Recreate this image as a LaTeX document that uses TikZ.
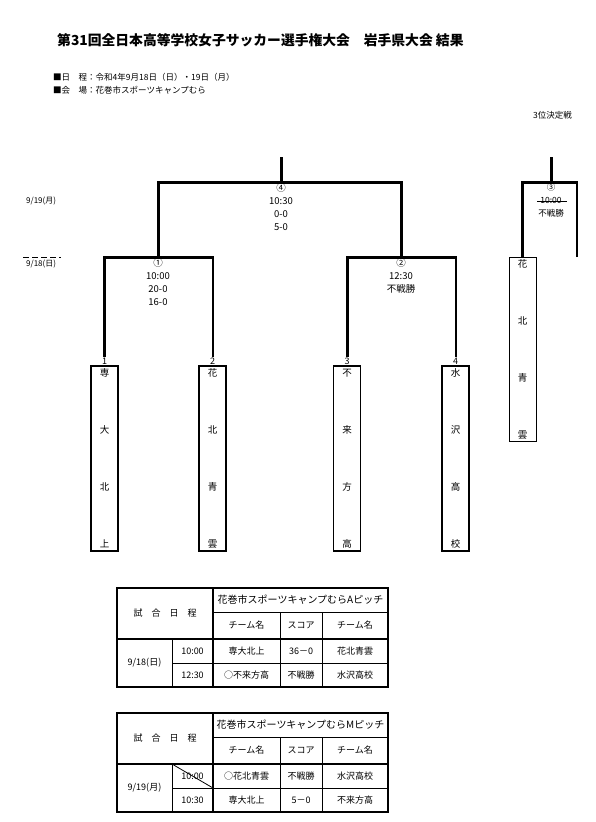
\documentclass[tikz,border=0pt]{standalone}
\usepackage{fontspec}
\setmainfont{Noto Sans CJK JP}
\usetikzlibrary{positioning}

\begin{document}
\begin{tikzpicture}[x=1pt, y=-1pt,
  team/.style={rectangle, draw=black, line width=1.5pt, minimum width=27pt,
               minimum height=185pt, inner sep=0pt, align=center,
               font=\fontsize{9.5}{57}\selectfont},
  seed/.style={inner sep=0.5pt, font=\fontsize{9}{10}\selectfont},
  res/.style={align=center, inner sep=1pt, font=\fontsize{9.5}{13}\selectfont},
  win/.style={draw=black, line width=3pt},
  lose/.style={draw=black, line width=2pt},
  date/.style={anchor=west, inner sep=0pt, font=\fontsize{8}{10}\selectfont},
  info/.style={anchor=west, inner sep=0pt, font=\fontsize{8.5}{10}\selectfont},
  cell/.style={inner sep=0pt, font=\fontsize{9}{11}\selectfont},
  frame/.style={draw=black, line width=1.5pt},
  rule/.style={draw=black, line width=0.8pt}]

  \useasboundingbox (0,0) rectangle (595,822);

  % ---- Heading ----
  \node[anchor=west, inner sep=0pt, font=\fontsize{13.8}{16}\selectfont\bfseries] (title) at (57,40)
    {第31回全日本高等学校女子サッカー選手権大会　岩手県大会 結果};
  \node[info] (sched) at (53,77) {■日　程：令和4年9月18日（日）・19日（月）};
  \node[info] (venue) at (53,90) {■会　場：花巻市スポーツキャンプむら};
  \node[info, anchor=east] (third) at (572,115) {3位決定戦};

  % ---- Days ----
  \node[date] (d19) at (26,201) {9/19(月)};
  \node[date] (d18) at (26,264) {9/18(日)};
  \draw[line width=1.5pt, dash pattern=on 6pt off 3pt] ([xshift=-3pt,yshift=2pt]d18.north west) -- ([xshift=5pt,yshift=2pt]d18.north east);

  % ---- Teams ----
  \node[team] (t1) at (104.5,458.5) {専\\大\\北\\上};
  \node[team] (t2) at (212.5,458.5) {花\\北\\青\\雲};
  \node[team] (t3) at (347,458.5)   {不\\来\\方\\高};
  \node[team] (t4) at (455.5,458.5) {水\\沢\\高\\校};
  \node[team, line width=0.8pt, minimum height=184pt] (t5) at (522.5,349) {花\\北\\青\\雲};

  \node[seed, above=0pt of t1] (n1) {1};
  \node[seed, above=0pt of t2] (n2) {2};
  \node[seed, above=0pt of t3] (n3) {3};
  \node[seed, above=0pt of t4] (n4) {4};

  % ---- Bracket ----
  \coordinate (m1) at (158,257);
  \coordinate (m2) at (401,257);
  \coordinate (m4) at (281,182);
  \coordinate (top4) at (281,157);
  \coordinate (m3) at (551,182);
  \coordinate (top3) at (551,157);
  \coordinate (end3) at (577,257);

  \draw[win]  (n1.north) |- (m1);
  \draw[lose] (n2.north) |- (m1);
  \draw[win]  (m1) -- (m1 -| n2.north);
  \draw[win]  (n3.north) |- (m2);
  \draw[lose] (n4.north) |- (m2);
  \draw[win]  (m2) -- (m2 -| n4.north);

  \draw[win] (m1) |- (m4);
  \draw[win] (m2) |- (m4);
  \draw[win] (top4) -- (m4);

  \draw[win]  (t5.north) |- (m3);
  \draw[lose] (end3) |- (m3);
  \draw[win]  (m3) -- (m3 -| end3);
  \draw[win]  (top3) -- (m3);

  % ---- Results ----
  \node[res, anchor=north] (r1) at (m1) {①\\10:00\\20-0\\16-0};
  \node[res, anchor=north] (r2) at (m2) {②\\12:30\\不戦勝};
  \node[res, anchor=north] (r4) at (m4) {④\\10:30\\0-0\\5-0};
  \node[res, anchor=north, font=\fontsize{8.5}{13}\selectfont] (r3) at (m3) {③\\10:00\\不戦勝};
  \draw[line width=0.8pt] (537,201) -- (567,201);

  % ---- Table 18th ----
  \draw[frame] (117,588) rectangle (388,687);
  \draw[rule]  (213,612) -- (388,612);
  \draw[frame] (117,639) -- (388,639);
  \draw[rule]  (172,663) -- (388,663);
  \draw[rule]  (172,639) -- (172,687);
  \draw[frame] (213,588) -- (213,687);
  \draw[rule]  (280,612) -- (280,687);
  \draw[rule]  (322,612) -- (322,687);

  \node[cell] (a-head)  at (165,613.5) {試　合　日　程};
  \node[cell, font=\fontsize{10}{12}\selectfont] (a-pitch) at (300.5,600) {花巻市スポーツキャンプむらAピッチ};
  \node[cell] (a-home)  at (246.5,625.5) {チーム名};
  \node[cell] (a-score) at (301,625.5)   {スコア};
  \node[cell] (a-away)  at (355,625.5)   {チーム名};
  \node[cell] (a-day)   at (144.5,663)   {9/18(日)};
  \node[cell] (a-time1) at (192.5,651)   {10:00};
  \node[cell] (a-time2) at (192.5,675)   {12:30};
  \node[cell] (a-h1)    at (246.5,651)   {専大北上};
  \node[cell] (a-s1)    at (301,651)     {36－0};
  \node[cell] (a-a1)    at (355,651)     {花北青雲};
  \node[cell] (a-h2)    at (246.5,675)   {○不来方高};
  \node[cell] (a-s2)    at (301,675)     {不戦勝};
  \node[cell] (a-a2)    at (355,675)     {水沢高校};

  % ---- Table 19th ----
  \begin{scope}[yshift=-125pt]
    \draw[frame] (117,588) rectangle (388,687);
    \draw[rule]  (213,612) -- (388,612);
    \draw[frame] (117,639) -- (388,639);
    \draw[rule]  (172,663) -- (388,663);
    \draw[rule]  (172,639) -- (172,687);
    \draw[frame] (213,588) -- (213,687);
    \draw[rule]  (280,612) -- (280,687);
    \draw[rule]  (322,612) -- (322,687);
    \draw[rule]  (172,639) -- (213,663);

    \node[cell] (b-head)  at (165,613.5) {試　合　日　程};
    \node[cell, font=\fontsize{10}{12}\selectfont] (b-pitch) at (300.5,600) {花巻市スポーツキャンプむらMピッチ};
    \node[cell] (b-home)  at (246.5,625.5) {チーム名};
    \node[cell] (b-score) at (301,625.5)   {スコア};
    \node[cell] (b-away)  at (355,625.5)   {チーム名};
    \node[cell] (b-day)   at (144.5,663)   {9/19(月)};
    \node[cell] (b-time1) at (192.5,651)   {10:00};
    \node[cell] (b-time2) at (192.5,675)   {10:30};
    \node[cell] (b-h1)    at (246.5,651)   {○花北青雲};
    \node[cell] (b-s1)    at (301,651)     {不戦勝};
    \node[cell] (b-a1)    at (355,651)     {水沢高校};
    \node[cell] (b-h2)    at (246.5,675)   {専大北上};
    \node[cell] (b-s2)    at (301,675)     {5－0};
    \node[cell] (b-a2)    at (355,675)     {不来方高};
  \end{scope}

\end{tikzpicture}
\end{document}
